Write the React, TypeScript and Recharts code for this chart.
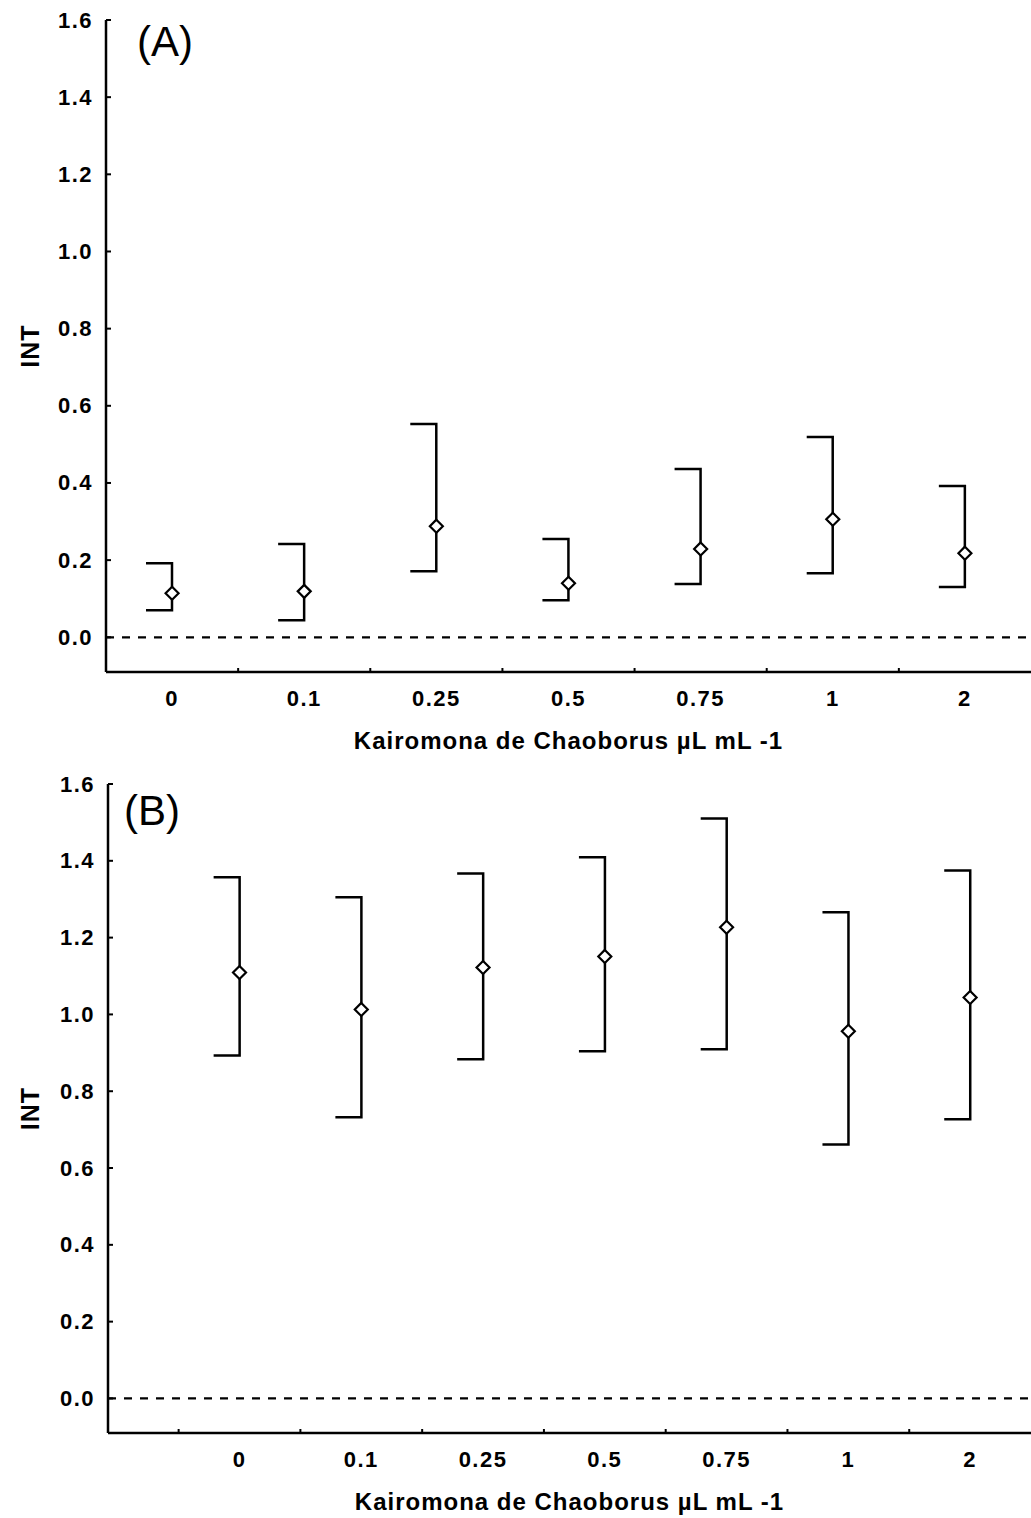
import React from "react";
import {
  ComposedChart,
  Bar,
  Scatter,
  XAxis,
  YAxis,
  ReferenceLine,
} from "recharts";

const categories = ["0", "0.1", "0.25", "0.5", "0.75", "1", "2"];

const meanA = [0.114, 0.119, 0.288, 0.14, 0.229, 0.306, 0.218];
const upperA = [0.192, 0.242, 0.553, 0.255, 0.436, 0.519, 0.392];
const lowerA = [0.07, 0.044, 0.171, 0.096, 0.138, 0.166, 0.13];

const meanB = [1.109, 1.013, 1.122, 1.151, 1.227, 0.956, 1.044];
const upperB = [1.357, 1.305, 1.367, 1.409, 1.51, 1.266, 1.375];
const lowerB = [0.893, 0.732, 0.883, 0.904, 0.909, 0.661, 0.727];

const yTicks = [0, 0.2, 0.4, 0.6, 0.8, 1.0, 1.2, 1.4, 1.6];
const xTitle = "Kairomona de Chaoborus µL mL -1";

const FONT = "'Liberation Sans', Arial, sans-serif";

const rows = (mean: number[], lower: number[], upper: number[]) =>
  categories.map((c, i) => ({
    cat: c,
    x: i + 0.5,
    mean: mean[i],
    range: [lower[i], upper[i]],
  }));

const dataA = rows(meanA, lowerA, upperA);
const dataB = rows(meanB, lowerB, upperB);

// stem with caps on the left side only, like the original
const Bracket = (props: any) => {
  const { x, y, width, height } = props;
  if (x == null || y == null) return null;
  const cx = x + width / 2;
  const top = Math.min(y, y + height);
  const bot = Math.max(y, y + height);
  return (
    <path
      d={`M${cx - 26},${top} H${cx} V${bot} H${cx - 26}`}
      fill="none"
      stroke="#000"
      strokeWidth={2.5}
    />
  );
};

const Diamond = (props: any) => {
  const { cx, cy } = props;
  const r = 6.5;
  return (
    <polygon
      points={`${cx},${cy - r} ${cx + r},${cy} ${cx},${cy + r} ${cx - r},${cy}`}
      fill="#fff"
      stroke="#000"
      strokeWidth={2.2}
    />
  );
};

const XTick = (props: any) => {
  const { x, y, payload } = props;
  const v = payload.value;
  if (Number.isInteger(v)) {
    return <line x1={x} x2={x} y1={y} y2={y - 4} stroke="#000" strokeWidth={2} />;
  }
  return (
    <text
      x={x}
      y={y + 26}
      textAnchor="middle"
      dominantBaseline="central"
      fontFamily={FONT}
      fontWeight="bold"
      fontSize={22}
      letterSpacing={1.5}
      fill="#000"
    >
      {categories[Math.floor(v)]}
    </text>
  );
};

const YTick = (props: any) => {
  const { x, y, payload } = props;
  return (
    <g>
      <line x1={x} x2={x + 5} y1={y} y2={y} stroke="#000" strokeWidth={2} />
      <text
        x={x - 13}
        y={y}
        textAnchor="end"
        dominantBaseline="central"
        fontFamily={FONT}
        fontWeight="bold"
        fontSize={22}
        letterSpacing={1.5}
        fill="#000"
      >
        {payload.value.toFixed(1)}
      </text>
    </g>
  );
};

function Panel({
  data,
  height,
  top,
  yWidth,
  xHeight,
  xDomain,
  xTicks,
  tag,
  tagPos,
}: {
  data: any[];
  height: number;
  top: number;
  yWidth: number;
  xHeight: number;
  xDomain: [number, number];
  xTicks: number[];
  tag: string;
  tagPos: [number, number];
}) {
  const plotH = height - top - xHeight;
  return (
    <div style={{ position: "relative", width: 1031, height }}>
      <ComposedChart
        width={1031}
        height={height}
        data={data}
        margin={{ top, right: 0, left: 0, bottom: 0 }}
      >
        <XAxis
          dataKey="x"
          type="number"
          domain={xDomain}
          ticks={xTicks}
          interval={0}
          allowDataOverflow
          tick={<XTick />}
          tickLine={false}
          tickSize={0}
          tickMargin={0}
          height={xHeight}
          axisLine={{ stroke: "#000", strokeWidth: 2.5 }}
          label={{
            content: (p: any) => (
              <text
                x={p.viewBox.x + p.viewBox.width / 2}
                y={p.viewBox.y + 68}
                textAnchor="middle"
                dominantBaseline="central"
                fontFamily={FONT}
                fontWeight="bold"
                fontSize={24}
                letterSpacing={1}
                fill="#000"
              >
                {xTitle}
              </text>
            ),
          }}
        />
        <YAxis
          type="number"
          domain={[-0.09, 1.6]}
          ticks={yTicks}
          interval={0}
          allowDataOverflow
          width={yWidth}
          tick={<YTick />}
          tickLine={false}
          tickSize={0}
          tickMargin={0}
          axisLine={{ stroke: "#000", strokeWidth: 2.5 }}
          label={{
            content: () => (
              <text
                x={30}
                y={top + plotH / 2}
                transform={`rotate(-90 30 ${top + plotH / 2})`}
                textAnchor="middle"
                dominantBaseline="central"
                fontFamily={FONT}
                fontWeight="bold"
                fontSize={25}
                letterSpacing={1}
                fill="#000"
              >
                INT
              </text>
            ),
          }}
        />
        <ReferenceLine y={0} stroke="#000" strokeWidth={2.2} strokeDasharray="8 8" />
        <Bar
          dataKey="range"
          barSize={26}
          shape={<Bracket />}
          isAnimationActive={false}
        />
        <Scatter dataKey="mean" shape={<Diamond />} isAnimationActive={false} />
      </ComposedChart>
      <div
        style={{
          position: "absolute",
          left: tagPos[0],
          top: tagPos[1],
          fontFamily: FONT,
          fontSize: 42,
          lineHeight: "42px",
          color: "#000",
        }}
      >
        {tag}
      </div>
    </div>
  );
}

export default function App() {
  return (
    <div
      style={{
        position: "absolute",
        left: 0,
        top: 0,
        width: 1031,
        height: 1518,
        background: "#fff",
      }}
    >
      <Panel
        data={dataA}
        height={760}
        top={20}
        yWidth={106}
        xHeight={88}
        xDomain={[0, 7]}
        xTicks={[1, 2, 3, 4, 5, 6, 0.5, 1.5, 2.5, 3.5, 4.5, 5.5, 6.5]}
        tag="(A)"
        tagPos={[137, 21]}
      />
      <Panel
        data={dataB}
        height={758}
        top={24}
        yWidth={108}
        xHeight={85}
        xDomain={[-0.58, 7]}
        xTicks={[0, 1, 2, 3, 4, 5, 6, 0.5, 1.5, 2.5, 3.5, 4.5, 5.5, 6.5]}
        tag="(B)"
        tagPos={[124, 30]}
      />
    </div>
  );
}
